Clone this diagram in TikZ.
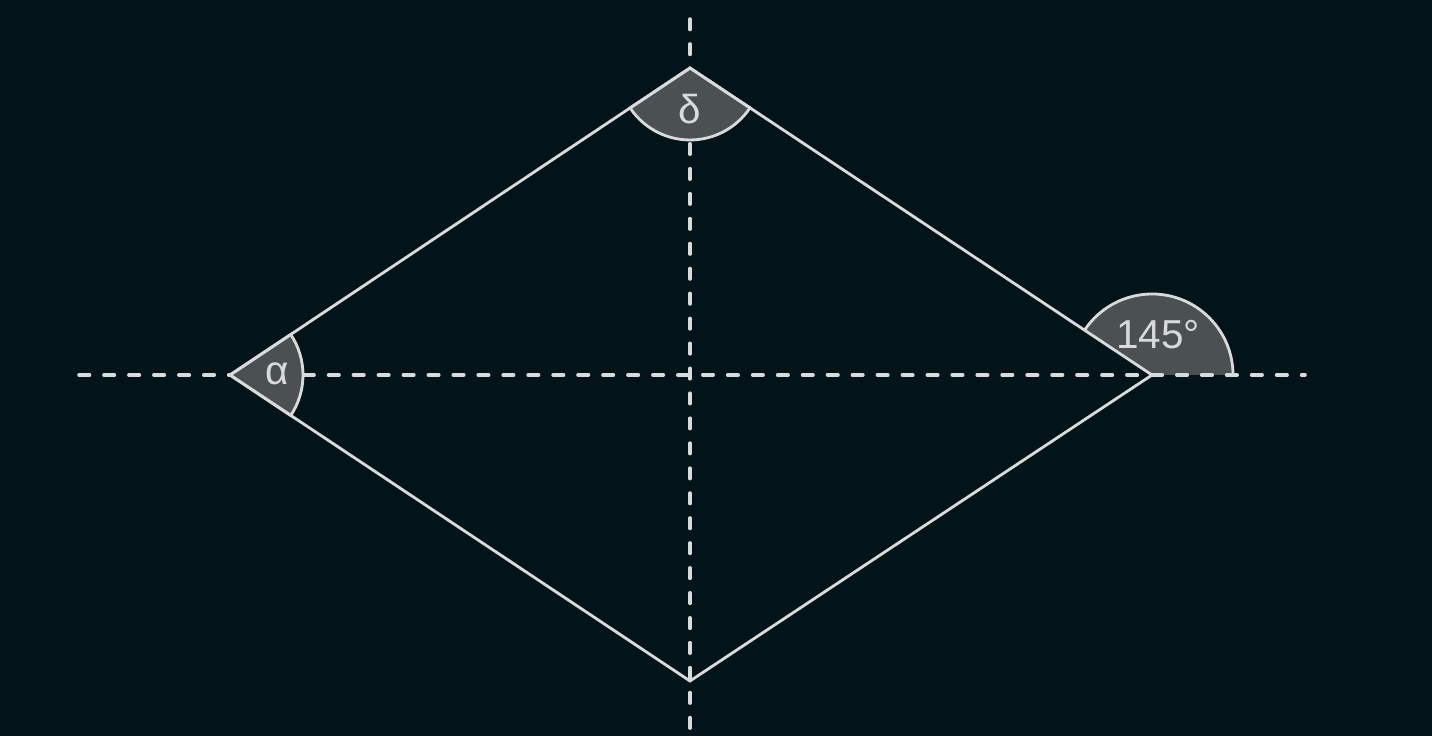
\documentclass[tikz,border=0pt]{standalone}
\usepackage{fontspec}
\setmainfont{Liberation Sans}
\definecolor{bg}{HTML}{03131A}
\definecolor{ln}{HTML}{D9DBDB}
\definecolor{wf}{HTML}{4B5152}
\begin{document}
\begin{tikzpicture}[x=0.02cm,y=0.02cm,
  edge/.style={draw=ln,line width=1.6pt,line join=miter},
  axis/.style={draw=ln,line width=2pt,line cap=round,dash pattern=on 6pt off 8.2pt},
  wedge/.style={fill=wf,draw=ln,line width=1.6pt},
  wfill/.style={fill=wf},
  lbl/.style={text=ln,font=\fontsize{23}{27}\selectfont,inner sep=0pt}]
\fill[bg] (0,0) rectangle (1432,736);
\useasboundingbox (0,0) rectangle (1432,736);
\coordinate (L) at (230,361);
\coordinate (T) at (690,668);
\coordinate (R) at (1152,361);
\coordinate (B) at (690,55);
\coordinate (HL) at (79,361);
\coordinate (HR) at (1305,361);
\coordinate (VT) at (690,717);
\coordinate (VB) at (690,0);
% vertical axis
\draw[axis] (VT) -- (VB);
% 145 wedge (fill, then arc only)
\fill[wfill] (R) -- ++(0:81) arc[start angle=0,end angle=146.4,radius=81] -- cycle;
\draw[draw=ln,line width=1.6pt] (R) ++(0:81) arc[start angle=0,end angle=146.4,radius=81];
% horizontal axis
\draw[axis] (HL) -- (HR);
% alpha and delta wedges
\filldraw[wedge] (L) -- ++(-33.7:73) arc[start angle=-33.7,end angle=33.7,radius=73] -- cycle;
\filldraw[wedge] (T) -- ++(213.7:72) arc[start angle=213.7,end angle=326.4,radius=72] -- cycle;
% rhombus
\draw[edge] (L) -- (T) -- (R) -- (B) -- cycle;
% labels
\node[lbl] (la) at (277,362) {α};
\node[lbl] (ld) at (690,627) {δ};
\node[lbl] (lr) at (1158,401) {145°};
\end{tikzpicture}
\end{document}
